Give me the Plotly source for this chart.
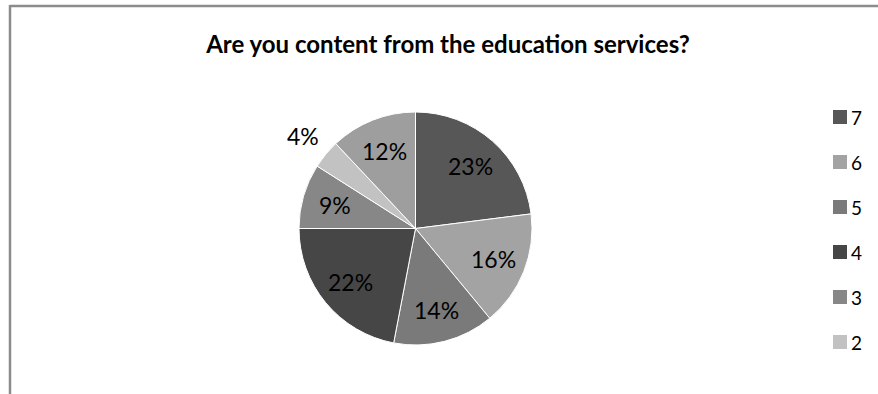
import math
import plotly.graph_objects as go

# Satisfaction ratings (1-7) and their share of responses, in percent
labels = ["7", "6", "5", "4", "3", "2", "1"]
shares = [23, 16, 14, 22, 9, 4, 12]
colors = ["#575757", "#a3a3a3", "#7a7a7a", "#464646", "#878787", "#c2c2c2", "#9e9e9e"]
legend_labels = ["7", "6", "5", "4", "3", "2"]
outside_labels = ["2"]

W, H = 878, 394
FONT = "Lato, Carlito, Calibri, sans-serif"

# Pie placement (pixels)
CX, CY, R = 415.5, 228.5, 116.5

fig = go.Figure(
    go.Pie(
        labels=labels,
        values=shares,
        sort=False,
        direction="clockwise",
        rotation=0,
        marker=dict(colors=colors, line=dict(color="white", width=1)),
        textinfo="none",
        showlegend=False,
        hoverinfo="label+percent",
        domain=dict(x=[(CX - R) / W, (CX + R) / W], y=[1 - (CY + R) / H, 1 - (CY - R) / H]),
    )
)

# Percentage labels placed at each slice's mid-angle
total = sum(shares)
cum = 0
for lab, v in zip(labels, shares):
    mid = (cum + v / 2) / total * 2 * math.pi
    cum += v
    f = 1.25 if lab in outside_labels else 0.72
    px = CX + f * R * math.sin(mid)
    py = CY - f * R * math.cos(mid)
    fig.add_annotation(xref="paper", yref="paper", x=px / W, y=1 - py / H,
                       text=f"{round(v / total * 100)}%", showarrow=False,
                       xanchor="center", yanchor="middle",
                       font=dict(family=FONT, size=23, color="black"))

# Chart frame (left and top edges)
fig.add_shape(type="line", xref="paper", yref="paper",
              x0=10 / W, x1=10 / W, y0=0, y1=1 - 5 / H,
              line=dict(color="#8c8c8c", width=2.5))
fig.add_shape(type="line", xref="paper", yref="paper",
              x0=10 / W, x1=1, y0=1 - 6 / H, y1=1 - 6 / H,
              line=dict(color="#8c8c8c", width=2.5))

# Legend drawn as swatches and labels
for i, lab in enumerate(legend_labels):
    yc = 117 + 45 * i
    fig.add_shape(type="rect", xref="paper", yref="paper",
                  x0=833 / W, x1=847 / W,
                  y0=1 - (yc + 7) / H, y1=1 - (yc - 7) / H,
                  fillcolor=colors[labels.index(lab)], line=dict(width=0))
    fig.add_annotation(xref="paper", yref="paper", x=849 / W, y=1 - yc / H,
                       text=lab, showarrow=False, xanchor="left", yanchor="middle",
                       font=dict(family=FONT, size=19, color="black"))

fig.update_layout(
    width=W, height=H,
    margin=dict(l=0, r=0, t=0, b=0),
    paper_bgcolor="white",
    plot_bgcolor="white",
    title=dict(
        text="<b>Are you content from the education services?</b>",
        x=448 / W, xanchor="center",
        y=1 - 45 / H, yanchor="middle",
        font=dict(family=FONT, size=24, color="black"),
    ),
)

fig.write_html("out.html")
